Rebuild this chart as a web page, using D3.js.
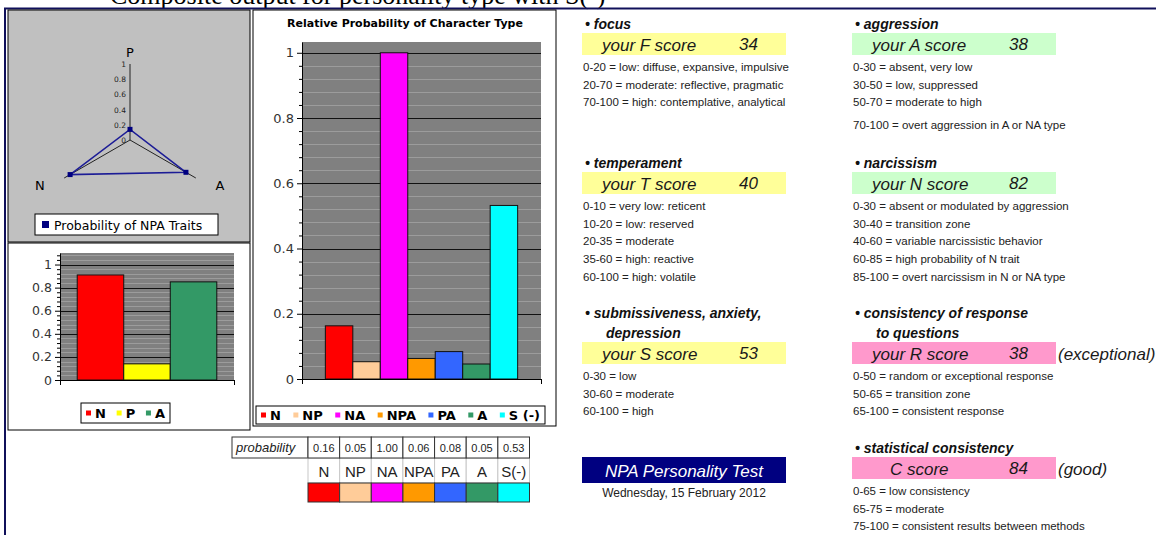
<!DOCTYPE html>
<html>
<head>
<meta charset="utf-8">
<script src="https://cdnjs.cloudflare.com/ajax/libs/d3/7.8.5/d3.min.js"></script>
<style>
body { margin: 0; background: #fff; }
svg { display: block; }
</style>
</head>
<body>
<div id="chart-area"></div>
<script>
// NPA traits (radar + small bar chart)
var traits = ["N", "P", "A"]
var traitValues = [0.91, 0.14, 0.85]
var traitColors = ["#ff0000", "#ffff00", "#339966"]

// character types (big bar chart + table)
var types = ["N", "NP", "NA", "NPA", "PA", "A", "S (-)"]
var typeCells = ["N", "NP", "NA", "NPA", "PA", "A", "S(-)"]
var typeProbs = [0.163, 0.053, 1.00, 0.063, 0.084, 0.046, 0.532]
var typeColors = ["#ff0000", "#ffcc99", "#ff00ff", "#ff9900", "#3366ff", "#339966", "#00ffff"]

var probTicks = [0, 0.2, 0.4, 0.6, 0.8, 1]

// score blocks
var scoreTitles = [["focus"], ["aggression"], ["temperament"], ["narcissism"],
    ["submissiveness, anxiety,", "depression"], ["consistency of response", "to questions"], ["statistical consistency"]]
var scoreNames = ["your F score", "your A score", "your T score", "your N score", "your S score", "your R score", "C score"]
var scoreValues = [34, 38, 40, 82, 53, 38, 84]
var scoreNotes = ["", "", "", "", "", "(exceptional)", "(good)"]
var scoreFills = ["#ffff99", "#ccffcc", "#ffff99", "#ccffcc", "#ffff99", "#ff99cc", "#ff99cc"]
var scoreRanges = [
    ["0-20 = low: diffuse, expansive, impulsive", "20-70 = moderate: reflective, pragmatic", "70-100 = high: contemplative, analytical"],
    ["0-30 = absent, very low", "30-50 = low, suppressed", "50-70 = moderate to high", "70-100 = overt aggression in A or NA type"],
    ["0-10 = very low: reticent", "10-20 = low: reserved", "20-35 = moderate", "35-60 = high: reactive", "60-100 = high: volatile"],
    ["0-30 = absent or modulated by aggression", "30-40 = transition zone", "40-60 = variable narcissistic behavior", "60-85 = high probability of N trait", "85-100 = overt narcissism in N or NA type"],
    ["0-30 = low", "30-60 = moderate", "60-100 = high"],
    ["0-50 = random or exceptional response", "50-65 = transition zone", "65-100 = consistent response"],
    ["0-65 = low consistency", "65-75 = moderate", "75-100 = consistent results between methods"]
]

var cw = 1156
var ch = 535
var chartFont = "'DejaVu Sans', Verdana, sans-serif"
var textFont = "'Liberation Sans', Arial, sans-serif"

var svg = d3.select("#chart-area").append("svg")
    .attr("width", cw)
    .attr("height", ch)

// heading cut off by the top edge, as in the screenshot, + page frame
svg.append("text")
    .attr("x", 110)
    .attr("y", 4)
    .attr("font-family", "'Liberation Serif', 'Times New Roman', serif")
    .attr("font-size", "26px")
    .text("Composite output for personality type with S(-)")

svg.append("path")
    .attr("d", "M5," + ch + "V8.5H" + cw)
    .attr("fill", "none")
    .attr("stroke", "#10105a")
    .attr("stroke-width", 2)

function legend(g, x, y, w, h, names, colors, pad, bold, size) {
    g.append("rect")
        .attr("x", x).attr("y", y).attr("width", w).attr("height", h)
        .attr("fill", "#fff").attr("stroke", "#000")
    var items = g.selectAll(null).data(names).join("g")
    items.append("rect")
        .attr("x", 0).attr("y", y + h / 2 - 2.5)
        .attr("width", 5).attr("height", 5)
        .attr("fill", (d, i) => colors[i])
    items.append("text")
        .attr("x", 9)
        .attr("y", y + h / 2 + 4.5)
        .attr("font-family", chartFont)
        .attr("font-size", size)
        .attr("font-weight", bold ? "bold" : "normal")
        .text(d => d)
    var widths = items.select("text").nodes().map(n => n.getComputedTextLength())
    var total = d3.sum(widths) + names.length * 9
    var gap = names.length > 1 ? (w - 2 * pad - total) / (names.length - 1) : 0
    var cx = x + pad
    items.each(function(d, i) {
        d3.select(this).attr("transform", "translate(" + cx + ",0)")
        cx += 9 + widths[i] + gap
    })
}

// ---------- radar ----------
var rg = svg.append("g")
rg.append("rect")
    .attr("x", 8).attr("y", 10).attr("width", 242).attr("height", 232)
    .attr("fill", "#c0c0c0").attr("stroke", "#000")

var rc = {x: 130, y: 140}
var r = d3.scaleLinear().domain([0, 1]).range([0, 76])
var ang = d3.scalePoint().domain(["P", "A", "N"]).range([0, 4 * Math.PI / 3])

var rad = rg.append("g").attr("transform", "translate(" + rc.x + "," + rc.y + ")")
traits.forEach(t => {
    rad.append("line")
        .attr("x1", 0).attr("y1", 0)
        .attr("x2", r(1) * Math.sin(ang(t)))
        .attr("y2", -r(1) * Math.cos(ang(t)))
        .attr("stroke", "#222").attr("stroke-width", 1)
})
rad.selectAll(null).data(probTicks).join("text")
    .attr("x", -4)
    .attr("y", d => -r(d) + 3)
    .attr("text-anchor", "end")
    .attr("font-family", chartFont)
    .attr("font-size", "7.5px")
    .attr("fill", "#222")
    .text(d => d3.format("~g")(d))

var radarLine = d3.lineRadial()
    .angle((d, i) => ang(traits[i]))
    .radius(d => r(d))
    .curve(d3.curveLinearClosed)
rad.append("path")
    .attr("d", radarLine(traitValues))
    .attr("fill", "none")
    .attr("stroke", "#1c1c96")
    .attr("stroke-width", 1.5)
rad.selectAll(null).data(traitValues).join("rect")
    .attr("x", (d, i) => r(d) * Math.sin(ang(traits[i])) - 2.5)
    .attr("y", (d, i) => -r(d) * Math.cos(ang(traits[i])) - 2.5)
    .attr("width", 5).attr("height", 5)
    .attr("fill", "#000080")

var labelR = d3.scaleLinear().domain([0, 1]).range([0, 104])
rad.selectAll(null).data(traits).join("text")
    .attr("x", d => d == "P" ? 0 : labelR(1) * Math.sin(ang(d)))
    .attr("y", d => d == "P" ? -r(1) - 7 : labelR(1) * 0.48)
    .attr("text-anchor", "middle")
    .attr("font-family", chartFont)
    .attr("font-size", "13px")
    .text(d => d)

rg.append("rect")
    .attr("x", 35).attr("y", 214).attr("width", 183).attr("height", 21)
    .attr("fill", "#fff").attr("stroke", "#000")
rg.append("rect")
    .attr("x", 42).attr("y", 221).attr("width", 7).attr("height", 7)
    .attr("fill", "#000080")
rg.append("text")
    .attr("x", 54).attr("y", 229.5)
    .attr("font-family", chartFont)
    .attr("font-size", "12.5px")
    .text("Probability of NPA Traits")

// ---------- bar chart helper ----------
function barChart(o) {
    var g = svg.append("g")
    g.append("rect")
        .attr("x", o.box[0]).attr("y", o.box[1]).attr("width", o.box[2]).attr("height", o.box[3])
        .attr("fill", "#fff").attr("stroke", "#000")
    var x = d3.scaleBand().domain(o.cats).range([o.l, o.r]).paddingInner(0).paddingOuter(o.outer)
    var y = d3.scaleLinear().domain([0, o.max]).range([o.b, o.t])
    g.append("rect")
        .attr("x", o.l).attr("y", o.t).attr("width", o.r - o.l).attr("height", o.b - o.t)
        .attr("fill", "#808080")
    var minor = d3.range(0.04, o.max, 0.04).filter(v => Math.abs(v / 0.2 - Math.round(v / 0.2)) > 0.01)
    g.selectAll(null).data(minor).join("line")
        .attr("x1", o.l).attr("x2", o.r)
        .attr("y1", d => Math.round(y(d)) + 0.5).attr("y2", d => Math.round(y(d)) + 0.5)
        .attr("stroke", "#9c9c9c")
    g.selectAll(null).data(probTicks.slice(1)).join("line")
        .attr("x1", o.l).attr("x2", o.r)
        .attr("y1", d => Math.round(y(d)) + 0.5).attr("y2", d => Math.round(y(d)) + 0.5)
        .attr("stroke", "#111")
    g.selectAll(null).data(o.values).join("rect")
        .attr("x", (d, i) => x(o.cats[i]))
        .attr("y", d => y(d))
        .attr("width", x.bandwidth())
        .attr("height", d => o.b - y(d))
        .attr("fill", (d, i) => o.colors[i])
        .attr("stroke", "#111")
        .attr("stroke-width", 1)

    var leftAxis = d3.axisLeft(y).tickValues(probTicks).tickSize(5).tickSizeOuter(0)
        .tickFormat(d3.format("~g"))
    var ay = g.append("g").attr("transform", "translate(" + o.l + ",0)").call(leftAxis)
    ay.selectAll("text").attr("font-family", chartFont).attr("font-size", o.fs).attr("fill", "#333")
    ay.select(".domain").attr("stroke", "#000")
    var minorAxis = d3.axisLeft(y).tickValues(minor).tickSize(3).tickSizeOuter(0).tickFormat("")
    g.append("g").attr("transform", "translate(" + o.l + ",0)").call(minorAxis)
        .select(".domain").remove()

    var xb = d3.scaleLinear().domain([0, 1]).range([o.l, o.r])
    g.append("g").attr("transform", "translate(0," + o.b + ")")
        .call(d3.axisBottom(xb).tickValues([0, 1]).tickSize(5).tickSizeOuter(0).tickFormat(""))
    legend(g, o.leg[0], o.leg[1], o.leg[2], o.leg[3], o.cats, o.colors, o.legPad, true, "13px")
    return g
}

barChart({
    box: [8, 243, 242, 187], l: 60, r: 234, t: 253, b: 380, max: 1.1, outer: 0.37,
    cats: traits, values: traitValues, colors: traitColors, fs: "12.5px",
    leg: [81, 403, 89, 20], legPad: 5
})

var big = barChart({
    box: [253, 10, 303, 416], l: 302, r: 541, t: 42, b: 379, max: 1.033, outer: 0.85,
    cats: types, values: typeProbs, colors: typeColors, fs: "13px",
    leg: [256, 406, 289, 18], legPad: 5
})
big.append("text")
    .attr("x", 405).attr("y", 27)
    .attr("text-anchor", "middle")
    .attr("font-family", chartFont)
    .attr("font-size", "11px")
    .attr("font-weight", "bold")
    .text("Relative Probability of Character Type")

// ---------- table ----------
var tg = svg.append("g")
var tx = d3.scaleBand().domain(typeCells).range([308, 529.5])
var rows = {t: 437, m: 458, c: 483, b: 502}
tg.append("rect")
    .attr("x", 232).attr("y", rows.t).attr("width", 76).attr("height", rows.m - rows.t)
    .attr("fill", "#fff").attr("stroke", "#333")
tg.append("text")
    .attr("x", 236).attr("y", rows.t + 15)
    .attr("font-family", textFont).attr("font-style", "italic").attr("font-size", "13px")
    .attr("fill", "#222")
    .text("probability")
tg.selectAll(null).data(typeCells).join("rect")
    .attr("x", d => tx(d)).attr("y", rows.m)
    .attr("width", tx.bandwidth()).attr("height", rows.c - rows.m)
    .attr("fill", "#fff").attr("stroke", "#c8c8c8")
tg.selectAll(null).data(typeCells).join("rect")
    .attr("x", d => tx(d)).attr("y", rows.t)
    .attr("width", tx.bandwidth()).attr("height", rows.m - rows.t)
    .attr("fill", "#fff").attr("stroke", "#333")
tg.selectAll(null).data(typeProbs).join("text")
    .attr("x", (d, i) => tx(typeCells[i]) + tx.bandwidth() / 2)
    .attr("y", rows.t + 15)
    .attr("text-anchor", "middle")
    .attr("font-family", textFont).attr("font-size", "11px").attr("fill", "#222")
    .text(d => d.toFixed(2))
tg.selectAll(null).data(typeCells).join("text")
    .attr("x", d => tx(d) + tx.bandwidth() / 2)
    .attr("y", rows.m + 19)
    .attr("text-anchor", "middle")
    .attr("font-family", textFont).attr("font-size", "15px").attr("fill", "#222")
    .text(d => d)
tg.selectAll(null).data(typeColors).join("rect")
    .attr("x", (d, i) => tx(typeCells[i])).attr("y", rows.c)
    .attr("width", tx.bandwidth()).attr("height", rows.b - rows.c)
    .attr("fill", d => d).attr("stroke", "#333")

// ---------- title box ----------
svg.append("rect")
    .attr("x", 582).attr("y", 457).attr("width", 204).attr("height", 26)
    .attr("fill", "#000080")
svg.append("text")
    .attr("x", 684).attr("y", 477)
    .attr("text-anchor", "middle")
    .attr("font-family", textFont).attr("font-style", "italic").attr("font-size", "17px")
    .attr("fill", "#fff")
    .text("NPA Personality Test")
svg.append("text")
    .attr("x", 684).attr("y", 497)
    .attr("text-anchor", "middle")
    .attr("font-family", textFont).attr("font-size", "12px")
    .attr("fill", "#222")
    .text("Wednesday, 15 February 2012")

// ---------- score blocks ----------
var colX = [582, 852]
var blockCol = [0, 1, 0, 1, 0, 1, 1]
var blockTop = [29, 29, 168, 168, 318, 318, 453]
var lineStep = 17.7

scoreNames.forEach((name, i) => {
    var bx = colX[blockCol[i]]
    var g = svg.append("g")
    scoreTitles[i].forEach((t, j) => {
        g.append("text")
            .attr("x", j == 0 ? bx + 3 : bx + 24)
            .attr("y", blockTop[i] + j * 20)
            .attr("font-family", textFont).attr("font-weight", "bold").attr("font-style", "italic")
            .attr("font-size", "14px").attr("fill", "#111")
            .text(j == 0 ? "\u2022 " + t : t)
    })
    var by = blockTop[i] + 4 + (scoreTitles[i].length - 1) * 20
    g.append("rect")
        .attr("x", bx).attr("y", by).attr("width", 204).attr("height", 22)
        .attr("fill", scoreFills[i])
    g.append("text")
        .attr("x", bx + (name.indexOf("your") == 0 ? 20 : 38)).attr("y", by + 18)
        .attr("font-family", textFont).attr("font-style", "italic").attr("font-size", "17px")
        .attr("fill", "#1a1a1a")
        .text(name)
    g.append("text")
        .attr("x", bx + 157).attr("y", by + 17)
        .attr("font-family", textFont).attr("font-style", "italic").attr("font-size", "17px")
        .attr("fill", "#1a1a1a")
        .text(scoreValues[i])
    if (scoreNotes[i]) {
        g.append("text")
            .attr("x", bx + 206).attr("y", by + 18)
            .attr("font-family", textFont).attr("font-style", "italic").attr("font-size", "17px")
            .attr("fill", "#1a1a1a")
            .text(scoreNotes[i])
    }
    scoreRanges[i].forEach((s, j) => {
        var extra = (i == 1 && j == 3) ? 5 : 0
        g.append("text")
            .attr("x", bx + 1).attr("y", by + 38 + j * lineStep + extra)
            .attr("font-family", textFont).attr("font-size", "11.5px")
            .attr("fill", "#222")
            .text(s)
    })
})
</script>
</body>
</html>
